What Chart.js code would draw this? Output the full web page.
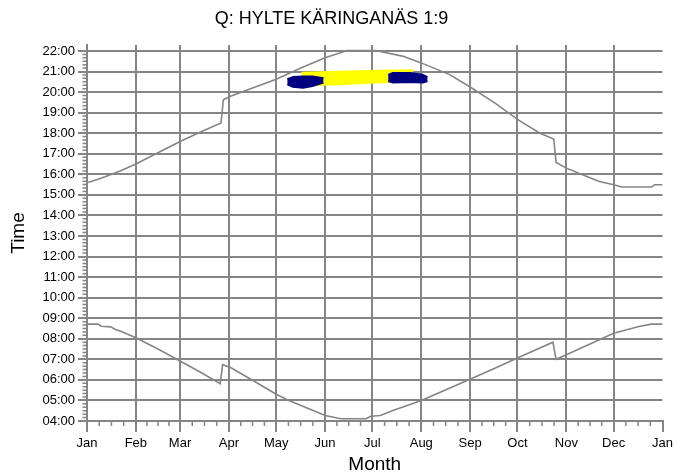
<!DOCTYPE html>
<html>
<head>
<meta charset="utf-8">
<script src="https://cdn.jsdelivr.net/npm/chart.js@4"></script>
<style>
  html, body { margin: 0; padding: 0; background: #fff; }
  #wrap { width: 677px; height: 476px; }
</style>
</head>
<body>
<div id="wrap"><canvas id="c" width="677" height="476"></canvas></div>
<script>
// x = day of year (0 = 1 Jan), y = clock time in hours
const monthStarts = [0, 31, 59, 90, 120, 151, 181, 212, 243, 273, 304, 334, 365];
const monthLabels = ['Jan', 'Feb', 'Mar', 'Apr', 'May', 'Jun', 'Jul', 'Aug', 'Sep', 'Oct', 'Nov', 'Dec', 'Jan'];
const hourTicks = [4, 5, 6, 7, 8, 9, 10, 11, 12, 13, 14, 15, 16, 17, 18, 19, 20, 21, 22];

// sunset (upper curve)
const sunsetDays = [0, 7, 14, 21, 31, 45, 59, 72, 85, 86.5, 91, 105, 120, 136, 151, 165, 183, 200, 212, 230, 244, 259, 274, 287, 296, 297.5, 304, 317, 325, 334, 339, 358, 360, 365];
const sunsetTimes = [15.59, 15.76, 15.95, 16.16, 16.5, 17.05, 17.6, 18.06, 18.5, 19.63, 19.8, 20.2, 20.62, 21.18, 21.67, 22.02, 22.02, 21.75, 21.42, 20.85, 20.2, 19.45, 18.62, 18.01, 17.72, 16.58, 16.3, 15.89, 15.65, 15.49, 15.38, 15.38, 15.49, 15.49];

// sunrise (lower curve)
const sunriseDays = [0, 7, 9, 15, 18, 21, 31, 45, 59, 72, 84.5, 86, 91, 105, 120, 128, 135, 151, 161, 177, 180, 186, 194, 212, 228, 244, 259, 274, 295.5, 297.5, 304, 319, 334, 350, 358, 365];
const sunriseTimes = [8.71, 8.71, 8.61, 8.58, 8.45, 8.38, 8.05, 7.5, 6.92, 6.37, 5.81, 6.74, 6.6, 5.98, 5.3, 5.0, 4.78, 4.27, 4.11, 4.11, 4.23, 4.27, 4.51, 5.0, 5.53, 6.07, 6.58, 7.1, 7.83, 7.0, 7.22, 7.75, 8.27, 8.6, 8.71, 8.71];

// yellow band
const yellowDays = [136, 160, 186, 207];
const yellowTop = [20.95, 21.0, 21.05, 21.07];
const yellowBottom = [20.32, 20.37, 20.46, 20.51];

// dark blue patches
const blueLeftDays = [127, 130.5, 137, 143, 150];
const blueLeftTop = [20.64, 20.74, 20.77, 20.77, 20.69];
const blueLeftBottom = [20.36, 20.25, 20.2, 20.28, 20.45];
const blueRightDays = [191, 194, 205, 213, 216];
const blueRightTop = [20.85, 20.94, 20.94, 20.85, 20.74];
const blueRightBottom = [20.53, 20.45, 20.48, 20.45, 20.53];

const gray = '#858585';
const fontFamily = "'Liberation Sans', Arial, sans-serif";

const pts = (xs, ys) => xs.map((x, i) => ({ x: x, y: ys[i] }));

function band(xs, ys, color, order, fill) {
  return {
    data: pts(xs, ys),
    borderColor: color,
    backgroundColor: color,
    borderWidth: 1.5,
    borderJoinStyle: 'round',
    pointRadius: 0,
    fill: fill,
    order: order
  };
}

// small ticks between the labelled ones
const minorTicks = {
  id: 'minorTicks',
  afterDraw(chart) {
    const { ctx, chartArea } = chart;
    const x = chart.scales.x, y = chart.scales.y;
    ctx.save();
    ctx.strokeStyle = gray;
    ctx.lineWidth = 1.5;
    ctx.beginPath();
    for (let i = 0; i < monthStarts.length - 1; i++) {
      const a = monthStarts[i], b = monthStarts[i + 1];
      for (let k = 1; k < 4; k++) {
        const px = x.getPixelForValue(a + (b - a) * k / 4);
        ctx.moveTo(px, chartArea.bottom);
        ctx.lineTo(px, chartArea.bottom + 5);
      }
    }
    for (let m = 4 * 60; m < 22 * 60; m += 10) {
      if (m % 60 === 0) continue;
      const py = y.getPixelForValue(m / 60);
      ctx.moveTo(chartArea.left - 4.5, py);
      ctx.lineTo(chartArea.left, py);
    }
    ctx.stroke();
    ctx.restore();
  }
};

new Chart(document.getElementById('c'), {
  type: 'line',
  data: {
    datasets: [
      { data: pts(sunsetDays, sunsetTimes), borderColor: gray, borderWidth: 1.6, pointRadius: 0, fill: false, order: 5 },
      { data: pts(sunriseDays, sunriseTimes), borderColor: gray, borderWidth: 1.6, pointRadius: 0, fill: false, order: 5 },
      band(yellowDays, yellowBottom, '#ffff00', 3, false),
      band(yellowDays, yellowTop, '#ffff00', 3, '-1'),
      band(blueLeftDays, blueLeftBottom, '#000080', 1, false),
      band(blueLeftDays, blueLeftTop, '#000080', 1, '-1'),
      band(blueRightDays, blueRightBottom, '#000080', 1, false),
      band(blueRightDays, blueRightTop, '#000080', 1, '-1')
    ]
  },
  options: {
    responsive: false,
    animation: false,
    layout: { padding: { left: 0, right: 14, top: 0, bottom: 0 } },
    plugins: {
      legend: { display: false },
      tooltip: { enabled: false },
      title: {
        display: true,
        text: 'Q: HYLTE KÄRINGANÄS 1:9',
        color: '#000',
        font: { family: fontFamily, size: 18, weight: 'normal' },
        padding: { top: 8, bottom: 15.4 }
      }
    },
    elements: { line: { tension: 0 } },
    scales: {
      x: {
        type: 'linear',
        min: 0,
        max: 365,
        afterBuildTicks: (s) => { s.ticks = monthStarts.map(v => ({ value: v })); },
        afterFit: (s) => { s.height = 55; },
        ticks: {
          autoSkip: false,
          maxRotation: 0,
          color: '#000',
          padding: 4,
          font: { family: fontFamily, size: 13 },
          callback: (v, i) => monthLabels[i]
        },
        grid: {
          color: (c) => (c.index === monthStarts.length - 1 ? 'rgba(0,0,0,0)' : gray),
          tickColor: gray,
          lineWidth: 2,
          tickLength: 11
        },
        border: { color: gray, width: 2 },
        title: {
          display: true,
          text: 'Month',
          color: '#000',
          font: { family: fontFamily, size: 19 },
          padding: { top: 0, bottom: 0 }
        }
      },
      y: {
        type: 'linear',
        min: 4,
        max: 22.29,
        afterBuildTicks: (s) => { s.ticks = hourTicks.map(v => ({ value: v })); },
        afterFit: (s) => { s.width = 87; },
        ticks: {
          color: '#000',
          padding: 3,
          font: { family: fontFamily, size: 13 },
          callback: (v) => String(v).padStart(2, '0') + ':00'
        },
        grid: {
          color: gray,
          tickColor: gray,
          lineWidth: 2,
          tickLength: 9
        },
        border: { color: gray, width: 2 },
        title: {
          display: true,
          text: 'Time',
          color: '#000',
          font: { family: fontFamily, size: 19 },
          padding: { top: 7, bottom: 0 }
        }
      }
    }
  },
  plugins: [minorTicks]
});
</script>
</body>
</html>
